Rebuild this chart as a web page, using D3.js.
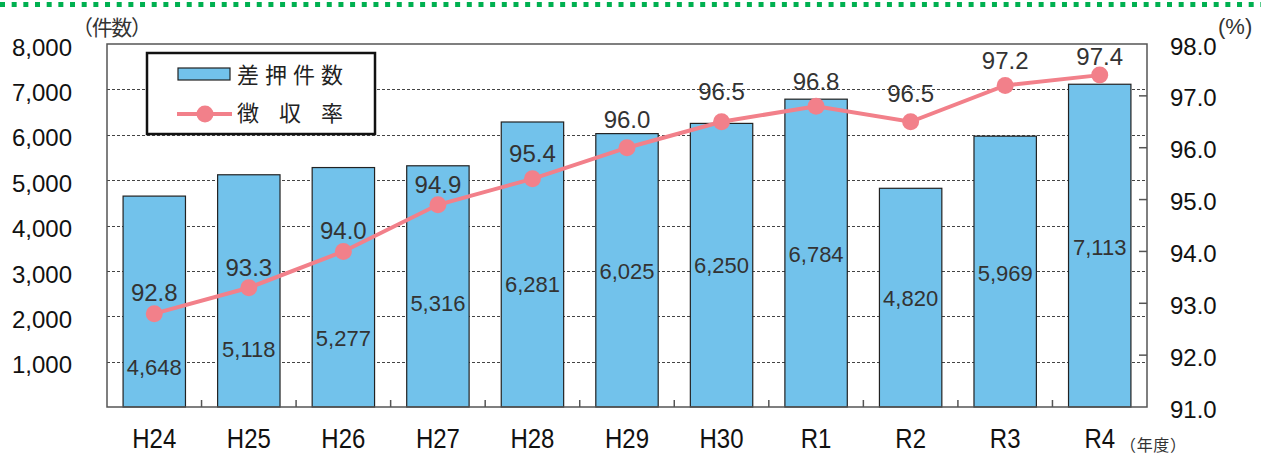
<!DOCTYPE html>
<html>
<head>
<meta charset="utf-8">
<script src="https://cdn.jsdelivr.net/npm/d3@7"></script>
<style>
body { margin: 0; background: #fff; }
svg { display: block; }
</style>
</head>
<body>
<div class="chart"></div>
<script>
// data
var years = ["H24", "H25", "H26", "H27", "H28", "H29", "H30", "R1", "R2", "R3", "R4"];
var cases = [4648, 5118, 5277, 5316, 6281, 6025, 6250, 6784, 4820, 5969, 7113];
var rates = [92.8, 93.3, 94.0, 94.9, 95.4, 96.0, 96.5, 96.8, 96.5, 97.2, 97.4];
var countTicks = [1000, 2000, 3000, 4000, 5000, 6000, 7000, 8000];
var rateTicks = [91, 92, 93, 94, 95, 96, 97, 98];

// where the labels sit (bar labels in 件数 units, rate labels in px above the dot)
var countLabelAt = [880, 1278, 1520, 2292, 2711, 2997, 3130, 3372, 2402, 2953, 3526];
var rateLabelLift = [21, 20, 21, 20, 25, 28, 30, 25, 28, 25, 19];

var width = 1261;
var height = 457;
var plotL = 107, plotR = 1147, plotT = 44, plotB = 407;

var numFont = "'Liberation Sans', Arial, sans-serif";
var jpFont = "'Noto Sans CJK JP', sans-serif";
var barColor = "#72c2eb";
var lineColor = "#f2808a";

var svg = d3.select(".chart")
    .append("svg")
    .attr("width", width)
    .attr("height", height);

// green dotted rule at the very top
svg.append("line")
    .attr("x1", 0).attr("x2", width)
    .attr("y1", 4.5).attr("y2", 4.5)
    .attr("stroke", "#00b050")
    .attr("stroke-width", 5)
    .attr("stroke-dasharray", "5,6.67");

var x = d3.scaleBand()
    .domain(years)
    .range([plotL, plotR])
    .paddingInner(0.34)
    .paddingOuter(0.17);

var y = d3.scaleLinear().domain([0, 8000]).range([plotB, plotT]);
var yr = d3.scaleLinear().domain([91, 98]).range([plotB, plotT]);

// dashed grid
svg.append("g")
    .selectAll("line")
    .data(countTicks.slice(0, -1))
    .enter()
    .append("line")
    .attr("x1", plotL).attr("x2", plotR)
    .attr("y1", function (d) { return Math.round(y(d)) + 0.5; })
    .attr("y2", function (d) { return Math.round(y(d)) + 0.5; })
    .attr("stroke", "#444")
    .attr("stroke-width", 1)
    .attr("stroke-dasharray", "3,2");

// bars
svg.append("g")
    .selectAll("rect")
    .data(cases)
    .enter()
    .append("rect")
    .attr("x", function (d, i) { return x(years[i]); })
    .attr("y", function (d) { return y(d); })
    .attr("width", x.bandwidth())
    .attr("height", function (d) { return plotB - y(d); })
    .attr("fill", barColor)
    .attr("stroke", "#222")
    .attr("stroke-width", 1.2);

// bar value labels
svg.append("g")
    .selectAll("text")
    .data(cases)
    .enter()
    .append("text")
    .attr("x", function (d, i) { return x(years[i]) + x.bandwidth() / 2; })
    .attr("y", function (d, i) { return y(countLabelAt[i]); })
    .attr("dy", "0.36em")
    .attr("text-anchor", "middle")
    .style("font-family", numFont)
    .style("font-size", "22px")
    .style("fill", "#333")
    .text(function (d) { return d3.format(",")(d); });

// frame
svg.append("rect")
    .attr("x", plotL).attr("y", plotT)
    .attr("width", plotR - plotL).attr("height", plotB - plotT)
    .attr("fill", "none")
    .attr("stroke", "#555")
    .attr("stroke-width", 1.5);

// x ticks between categories, pointing up
svg.append("g")
    .selectAll("line")
    .data(years.slice(1))
    .enter()
    .append("line")
    .attr("x1", function (d) { return x(d) - x.step() * 0.17; })
    .attr("x2", function (d) { return x(d) - x.step() * 0.17; })
    .attr("y1", plotB).attr("y2", plotB - 7)
    .attr("stroke", "#555")
    .attr("stroke-width", 1.5);

// right ticks, pointing in
svg.append("g")
    .selectAll("line")
    .data(rateTicks.slice(1, -1))
    .enter()
    .append("line")
    .attr("x1", plotR - 8).attr("x2", plotR)
    .attr("y1", function (d) { return yr(d); })
    .attr("y2", function (d) { return yr(d); })
    .attr("stroke", "#555")
    .attr("stroke-width", 1.5);

// left axis labels
svg.append("g")
    .selectAll("text")
    .data(countTicks)
    .enter()
    .append("text")
    .attr("x", 72)
    .attr("y", function (d) { return y(d) + 3; })
    .attr("dy", "0.36em")
    .attr("text-anchor", "end")
    .style("font-family", numFont)
    .style("font-size", "24px")
    .style("fill", "#111")
    .text(function (d) { return d3.format(",")(d); });

// right axis labels
svg.append("g")
    .selectAll("text")
    .data(rateTicks)
    .enter()
    .append("text")
    .attr("x", 1170)
    .attr("y", function (d) { return yr(d) + 2; })
    .attr("dy", "0.36em")
    .style("font-family", numFont)
    .style("font-size", "24px")
    .style("fill", "#111")
    .text(function (d) { return d3.format(".1f")(d); });

// category labels
svg.append("g")
    .selectAll("text")
    .data(years)
    .enter()
    .append("text")
    .attr("transform", function (d) {
        return "translate(" + (x(d) + x.bandwidth() / 2) + ",448) scale(1,1.15)";
    })
    .attr("text-anchor", "middle")
    .style("font-family", numFont)
    .style("font-size", "24px")
    .style("fill", "#111")
    .text(function (d) { return d; });

// unit labels
svg.append("text")
    .attr("x", 72).attr("y", 35)
    .attr("textLength", 80)
    .style("font-family", jpFont)
    .style("font-size", "21px")
    .style("fill", "#333")
    .text("（件数）");

svg.append("text")
    .attr("x", 1218).attr("y", 34)
    .style("font-family", numFont)
    .style("font-size", "22px")
    .style("fill", "#333")
    .text("(%)");

svg.append("text")
    .attr("x", 1120).attr("y", 451)
    .attr("textLength", 66)
    .style("font-family", jpFont)
    .style("font-size", "16px")
    .style("fill", "#333")
    .text("（年度）");

// rate line
var line = d3.line()
    .x(function (d, i) { return x(years[i]) + x.bandwidth() / 2; })
    .y(function (d) { return yr(d); });

svg.append("path")
    .datum(rates)
    .attr("d", line)
    .attr("fill", "none")
    .attr("stroke", lineColor)
    .attr("stroke-width", 4);

svg.append("g")
    .selectAll("circle")
    .data(rates)
    .enter()
    .append("circle")
    .attr("cx", function (d, i) { return x(years[i]) + x.bandwidth() / 2; })
    .attr("cy", function (d) { return yr(d); })
    .attr("r", 8.5)
    .attr("fill", lineColor);

svg.append("g")
    .selectAll("text")
    .data(rates)
    .enter()
    .append("text")
    .attr("x", function (d, i) { return x(years[i]) + x.bandwidth() / 2; })
    .attr("y", function (d, i) { return yr(d) - rateLabelLift[i]; })
    .attr("dy", "0.36em")
    .attr("text-anchor", "middle")
    .style("font-family", numFont)
    .style("font-size", "24px")
    .style("fill", "#333")
    .text(function (d) { return d3.format(".1f")(d); });

// legend
var legend = svg.append("g");
legend.append("rect")
    .attr("x", 147).attr("y", 53)
    .attr("width", 228).attr("height", 81)
    .attr("fill", "#fff")
    .attr("stroke", "#111")
    .attr("stroke-width", 2.5);
legend.append("rect")
    .attr("x", 178).attr("y", 68)
    .attr("width", 52).attr("height", 12)
    .attr("fill", barColor)
    .attr("stroke", "#222")
    .attr("stroke-width", 1.2);
legend.append("line")
    .attr("x1", 177).attr("x2", 232)
    .attr("y1", 114).attr("y2", 114)
    .attr("stroke", lineColor)
    .attr("stroke-width", 4);
legend.append("circle")
    .attr("cx", 205).attr("cy", 114)
    .attr("r", 8.5)
    .attr("fill", lineColor);
legend.append("text")
    .attr("x", 237).attr("y", 83)
    .attr("textLength", 106)
    .style("font-family", jpFont)
    .style("font-size", "22px")
    .style("fill", "#222")
    .text("差押件数");
legend.append("text")
    .attr("x", 237).attr("y", 121)
    .attr("textLength", 106)
    .style("font-family", jpFont)
    .style("font-size", "22px")
    .style("fill", "#222")
    .text("徴 収 率");
</script>
</body>
</html>
